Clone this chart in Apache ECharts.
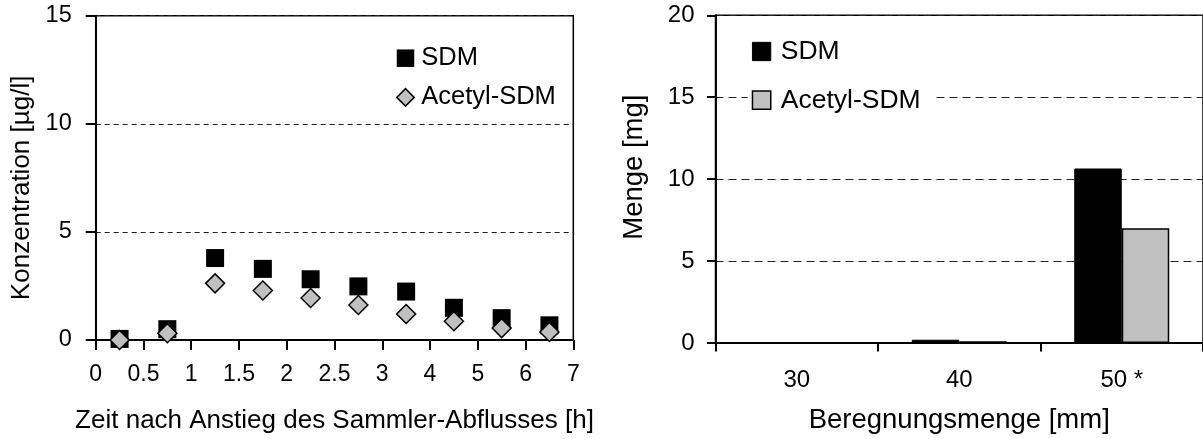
<!DOCTYPE html>
<html><head><meta charset="utf-8">
<script src="https://cdn.jsdelivr.net/npm/echarts@6/dist/echarts.min.js"></script>
<style>html,body{margin:0;padding:0;background:#fff}#c{width:1203px;height:439px}</style>
</head><body><div id="c"></div>
<script>
// Left chart: concentration over time after rise of collector discharge
const timeHours = [0.25, 0.75, 1.25, 1.75, 2.25, 2.75, 3.5, 4.5, 5.5, 6.5];
const timeTickValues = [0, 0.5, 1, 1.5, 2, 2.5, 3, 4, 5, 6, 7];
const timeTickLabels = ['0', '0.5', '1', '1.5', '2', '2.5', '3', '4', '5', '6', '7'];
const sdmConc = [0.05, 0.5, 3.79, 3.29, 2.81, 2.48, 2.24, 1.49, 1.01, 0.68];
const acetylConc = [0.0, 0.31, 2.62, 2.29, 1.94, 1.62, 1.2, 0.87, 0.55, 0.37];
const concTicks = [0, 5, 10, 15];
// Right chart: amounts per rainfall amount
const rainCategories = ['30', '40', '50 *'];
const sdmAmount = [0, 0.2, 10.65];
const acetylAmount = [0, 0.1, 7.0];
const amountTicks = [0, 5, 10, 15, 20];

const FF = '"Liberation Sans", Arial, sans-serif';

// piecewise mapping of time onto the evenly spaced (non-linear) tick axis
function timeToAxis(t) {
  for (let i = 0; i < timeTickValues.length - 1; i++) {
    const lo = timeTickValues[i], hi = timeTickValues[i + 1];
    if (t >= lo && t <= hi) return i + (t - lo) / (hi - lo);
  }
  return timeTickValues.length - 1;
}
const sdmPts = timeHours.map((t, i) => [timeToAxis(t), sdmConc[i]]);
const acetylPts = timeHours.map((t, i) => [timeToAxis(t), acetylConc[i]]);

const chart = echarts.init(document.getElementById('c'), null, {renderer: 'canvas'});
const black = '#000';
chart.setOption({
  animation: false,
  backgroundColor: '#fff',
  textStyle: {fontFamily: FF, color: black},
  grid: [
    {left: 95.7, top: 15.7, width: 477.6, height: 326.3, show: true, borderColor: black, borderWidth: 1.5},
    {left: 715.5, top: 15.3, width: 489, height: 329, show: true, borderColor: black, borderWidth: 1.5}
  ],
  legend: [
    {
      orient: 'vertical', left: 396, top: 45.2, padding: 0, itemGap: 13.2,
      itemWidth: 17.5, itemHeight: 17.5,
      textStyle: {fontSize: 25.5, fontFamily: FF, color: black, padding: [0, 0, 0, 2]},
      data: [
        {name: 'SDM', icon: 'rect', itemStyle: {color: black, borderWidth: 0}},
        {name: 'Acetyl-SDM', icon: 'diamond', itemStyle: {color: '#C0C0C0', borderColor: black, borderWidth: 1.5}}
      ]
    },
    {
      orient: 'vertical', left: 747.7, top: 34, padding: [4, 14, 4, 4], itemGap: 21.7,
      backgroundColor: '#fff',
      itemWidth: 18.3, itemHeight: 18.3,
      textStyle: {fontSize: 26.5, fontFamily: FF, color: black, padding: [0, 0, 0, 5]},
      data: [
        {name: 'SDM', icon: 'rect', itemStyle: {color: black, borderColor: black, borderWidth: 1}},
        {name: 'Acetyl-SDM', icon: 'rect', itemStyle: {color: '#C0C0C0', borderColor: black, borderWidth: 1.5}}
      ]
    }
  ],
  xAxis: [
    {
      gridIndex: 0, type: 'value', min: 0, max: timeTickValues.length - 1, interval: 1,
      axisLine: {show: true, onZero: false, lineStyle: {color: black, width: 2}},
      axisTick: {show: true, length: 10, lineStyle: {color: black, width: 2}},
      axisLabel: {show: true, showMinLabel: true, showMaxLabel: true, margin: 23, fontSize: 23, fontFamily: FF, color: black,
        formatter: v => timeTickLabels[Math.round(v)]},
      splitLine: {show: false},
      name: 'Zeit nach Anstieg des Sammler-Abflusses [h]', nameLocation: 'middle', nameGap: 68,
      nameTextStyle: {fontSize: 26, fontFamily: FF, color: black}
    },
    {
      gridIndex: 1, type: 'category', data: rainCategories,
      axisLine: {show: true, onZero: false, lineStyle: {color: black, width: 2}},
      axisTick: {show: true, length: 8.5, alignWithLabel: false, lineStyle: {color: black, width: 2}},
      axisLabel: {margin: 25, fontSize: 24, fontFamily: FF, color: black},
      splitLine: {show: false},
      name: 'Beregnungsmenge [mm]', nameLocation: 'middle', nameGap: 63,
      nameTextStyle: {fontSize: 27.5, fontFamily: FF, color: black}
    }
  ],
  yAxis: [
    {
      gridIndex: 0, type: 'value', min: concTicks[0], max: concTicks[concTicks.length - 1], interval: concTicks[1] - concTicks[0],
      axisLine: {show: true, lineStyle: {color: black, width: 2}},
      axisTick: {show: true, length: 10, lineStyle: {color: black, width: 2}},
      axisLabel: {margin: 24, fontSize: 23.5, fontFamily: FF, color: black, showMinLabel: true, showMaxLabel: true},
      splitLine: {show: true, lineStyle: {color: '#222', width: 1, type: [5, 4]}},
      name: 'Konzentration [µg/l]', nameLocation: 'middle', nameGap: 61,
      nameTextStyle: {fontSize: 26, fontFamily: FF, color: black, padding: [0, 20, 0, 0]}
    },
    {
      gridIndex: 1, type: 'value', min: amountTicks[0], max: amountTicks[amountTicks.length - 1], interval: amountTicks[1] - amountTicks[0],
      axisLine: {show: true, lineStyle: {color: black, width: 2}},
      axisTick: {show: true, length: 8.5, lineStyle: {color: black, width: 2}},
      axisLabel: {margin: 21, fontSize: 24, fontFamily: FF, color: black, showMinLabel: true, showMaxLabel: true},
      splitLine: {show: true, lineStyle: {color: '#222', width: 1, type: [8, 5]}},
      name: 'Menge [mg]', nameLocation: 'middle', nameGap: 67.5,
      nameTextStyle: {fontSize: 27.5, fontFamily: FF, color: black, padding: [0, 0, 0, 24]}
    }
  ],
  series: [
    {
      name: 'SDM', type: 'scatter', xAxisIndex: 0, yAxisIndex: 0, data: sdmPts,
      symbol: 'rect', symbolSize: 18, z: 3,
      itemStyle: {color: black, borderColor: black, borderWidth: 0, opacity: 1}
    },
    {
      name: 'Acetyl-SDM', type: 'scatter', xAxisIndex: 0, yAxisIndex: 0, data: acetylPts,
      symbol: 'diamond', symbolSize: 19, z: 4,
      itemStyle: {color: '#C0C0C0', borderColor: black, borderWidth: 1.5, opacity: 1}
    },
    {
      name: 'SDM', type: 'bar', xAxisIndex: 1, yAxisIndex: 1, data: sdmAmount,
      barWidth: 47.5, barGap: '0%',
      itemStyle: {color: black, borderColor: black, borderWidth: 1}
    },
    {
      name: 'Acetyl-SDM', type: 'bar', xAxisIndex: 1, yAxisIndex: 1, data: acetylAmount,
      barWidth: 47.5, barGap: '0%',
      itemStyle: {color: '#C0C0C0', borderColor: black, borderWidth: 1.5}
    }
  ]
});
</script></body></html>
